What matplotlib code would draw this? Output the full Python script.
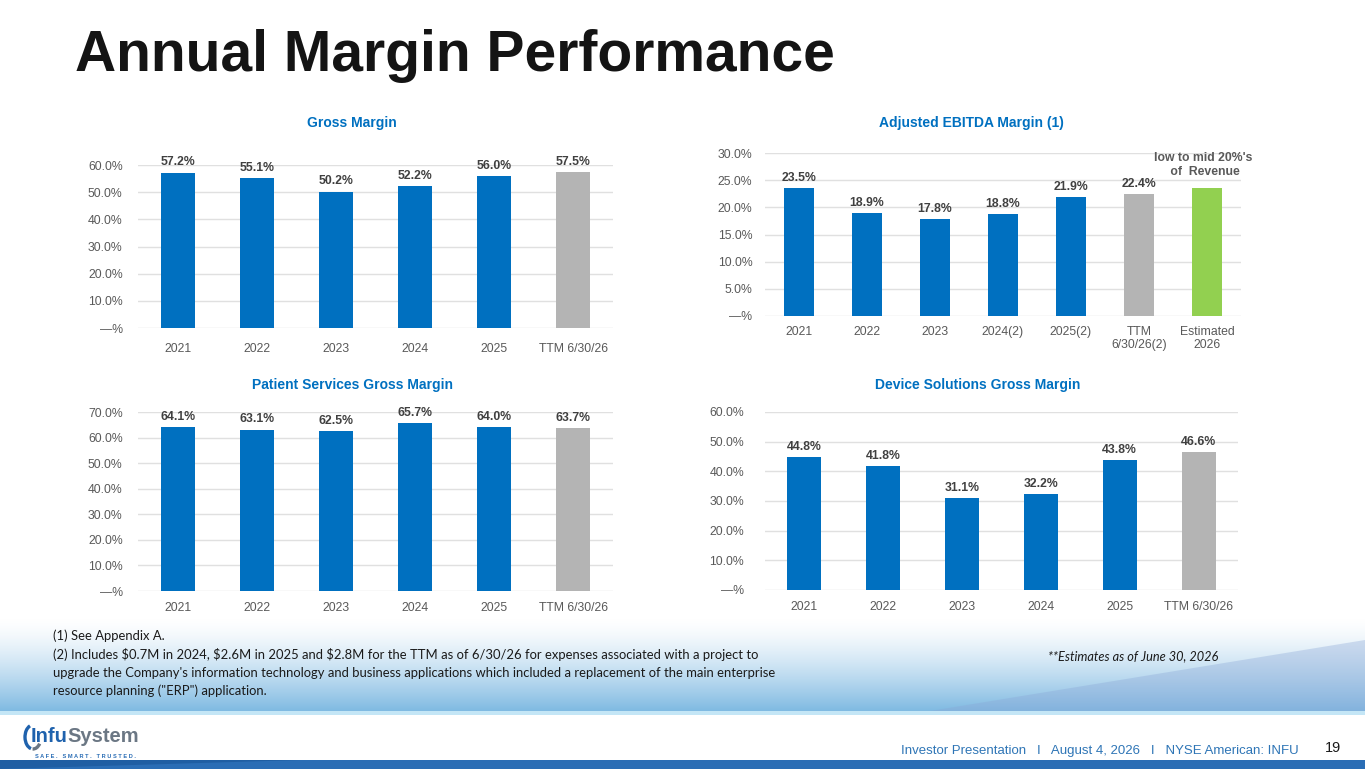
import matplotlib
matplotlib.use("Agg")
import matplotlib.pyplot as plt
import numpy as np
from matplotlib.patches import Arc, Polygon, Rectangle

W, H = 1365, 769

# ---- data ----
years = ["2021", "2022", "2023", "2024", "2025", "TTM 6/30/26"]
gross_margin = [57.2, 55.1, 50.2, 52.2, 56.0, 57.5]

ebitda_labels = ["2021", "2022", "2023", "2024(2)", "2025(2)", "TTM\n6/30/26(2)", "Estimated\n2026"]
ebitda_margin = [23.5, 18.9, 17.8, 18.8, 21.9, 22.4, 23.5]
ebitda_text = ["23.5%", "18.9%", "17.8%", "18.8%", "21.9%", "22.4%", None]

patient_margin = [64.1, 63.1, 62.5, 65.7, 64.0, 63.7]
device_margin = [44.8, 41.8, 31.1, 32.2, 43.8, 46.6]

BLUE = "#0070c0"
GREY = "#b4b4b4"
GREEN = "#92d050"
TICK = "#595959"
VALUE = "#404040"
SANS = ["Liberation Sans", "DejaVu Sans"]

plt.rcParams["font.family"] = SANS

fig = plt.figure(figsize=(W / 100, H / 100), dpi=100)

# ---- background: gradient band + footer ----
bg = fig.add_axes([0, 0, 1, 1], zorder=-10)
bg.set_xlim(0, W)
bg.set_ylim(H, 0)
bg.axis("off")
band_top, band_bot = 618, 711
t = np.linspace(0, 1, band_bot - band_top)[:, None] ** 1.4
top_c = np.array([1.0, 1.0, 1.0])
bot_c = np.array([0x80, 0xba, 0xe2]) / 255
grad = top_c + (bot_c - top_c) * t[..., None]
grad = np.repeat(grad, 10, axis=1)
bg.imshow(grad, extent=(0, W, band_bot, band_top), aspect="auto", zorder=0)
bg.add_patch(Polygon([(930, band_bot), (1365, 640), (1365, band_bot)],
                     closed=True, color="#8aa6d6", alpha=0.35, lw=0, zorder=1))
bg.add_patch(Rectangle((0, 711), W, 4, color="#c4e6f6", lw=0, zorder=2))
bg.add_patch(Rectangle((0, 760), W, 9, color="#2a6db5", lw=0, zorder=2))
bg.add_patch(Polygon([(0, 760), (300, 760), (0, 769)], closed=True,
                     color="#1f5ea3", lw=0, zorder=3))


def px_axes(left, top, right, bottom):
    return fig.add_axes([left / W, 1 - bottom / H, (right - left) / W, (bottom - top) / H])


def pct(v, _=None):
    return "\u2014%" if v == 0 else f"{v:.1f}%"


def bar_panel(ax, labels, values, colors, ymax, step, ypad, xpad, texts=None):
    x = np.arange(len(values))
    ax.bar(x, values, width=0.43, color=colors, zorder=3)
    ax.set_xlim(-0.5, len(values) - 0.5)
    ax.set_ylim(0, ymax)
    ticks = np.arange(0, ymax + step / 2, step)
    ax.set_yticks(ticks)
    ax.set_yticklabels([pct(v) for v in ticks])
    ax.set_xticks(x)
    ax.set_xticklabels(labels)
    ax.yaxis.grid(True, color="#e0e0e0", lw=1, zorder=0)
    ax.set_axisbelow(True)
    for s in ax.spines.values():
        s.set_visible(False)
    ax.tick_params(axis="y", length=0, pad=ypad, labelsize=8.8, labelcolor=TICK)
    ax.tick_params(axis="x", length=0, pad=xpad, labelsize=8.8, labelcolor=TICK)
    if texts is None:
        texts = [f"{v:.1f}%" for v in values]
    for xi, v, s in zip(x, values, texts):
        if s is None:
            continue
        ax.annotate(s, (xi, v), xytext=(0, 3), textcoords="offset points",
                    ha="center", va="bottom", fontsize=8.8, fontweight="bold",
                    color=VALUE, annotation_clip=False)


six_colors = [BLUE] * 5 + [GREY]

ax1 = px_axes(138, 165, 613, 328)
bar_panel(ax1, years, gross_margin, six_colors, 60, 10, 11, 11)

ax2 = px_axes(765, 153, 1241, 316)
bar_panel(ax2, ebitda_labels, ebitda_margin, [BLUE] * 5 + [GREY, GREEN], 30, 5, 9, 7,
          texts=ebitda_text)
for lbl in ax2.get_xticklabels():
    lbl.set_linespacing(1.1)
ax2.text(5.94, 27.8, "low to mid 20%'s\n of  Revenue", ha="center", va="center",
         fontsize=8.8, fontweight="bold", color=TICK, linespacing=1.15)

ax3 = px_axes(138, 412, 613, 591)
bar_panel(ax3, years, patient_margin, six_colors, 70, 10, 11, 8)

ax4 = px_axes(765, 412, 1238, 590)
bar_panel(ax4, years, device_margin, six_colors, 60, 10, 15, 8)

# ---- panel titles ----
title_kw = dict(ha="center", va="center", fontsize=10, fontweight="bold", color=BLUE)
fig.text(352 / W, 1 - 123 / H, "Gross Margin", **title_kw)
fig.text(971 / W, 1 - 123 / H, "Adjusted EBITDA Margin (1)", **title_kw)
fig.text(352 / W, 1 - 385 / H, "Patient Services Gross Margin", **title_kw)
fig.text(978 / W, 1 - 385 / H, "Device Solutions Gross Margin", **title_kw)

# ---- main title ----
fig.text(75 / W, 1 - 56 / H, "Annual Margin Performance", ha="left", va="center",
         fontsize=41, fontweight="bold", color="#141414")

# ---- footnotes ----
note_kw = dict(ha="left", va="center", fontsize=9.4, color="#1a1a1a",
               family=["Lato", "DejaVu Sans"])
notes = [
    "(1) See Appendix A.",
    "(2) Includes $0.7M in 2024, $2.6M in 2025 and $2.8M for the TTM as of 6/30/26 for expenses associated with a project to",
    "upgrade the Company's information technology and business applications which included a replacement of the main enterprise",
    "resource planning (\"ERP\") application.",
]
for i, line in enumerate(notes):
    fig.text(53 / W, 1 - (636 + 18.3 * i) / H, line, **note_kw)

fig.text(1048 / W, 1 - 656 / H, "**Estimates as of June 30, 2026", ha="left", va="center",
         fontsize=9.2, style="italic", color="#1a1a1a", family=["Lato", "DejaVu Sans"])

# ---- footer ----
fig.text(1299 / W, 1 - 751 / H,
         "Investor Presentation   I   August 4, 2026   I   NYSE American: INFU",
         ha="right", va="center", fontsize=9.5, color="#2e75b6")
fig.text(1333 / W, 1 - 748 / H, "19", ha="center", va="center", fontsize=10.5, color="#1a1a1a")

# logo
fig.text(31 / W, 1 - 737 / H, "Infu", ha="left", va="center", fontsize=14.5,
         fontweight="bold", color="#1f62ad")
fig.text(67 / W, 1 - 737 / H, "System", ha="left", va="center", fontsize=14.5,
         fontweight="bold", color="#6b7784")
fig.text(35 / W, 1 - 756 / H, "S A F E .   S M A R T .   T R U S T E D .", ha="left",
         va="center", fontsize=4.1, fontweight="bold", color="#2a6db5")
bg.add_patch(Arc((33, 737), 16, 24, theta1=100, theta2=255, color="#1f62ad", lw=2.4, zorder=5))
bg.add_patch(Arc((33, 737), 16, 24, theta1=45, theta2=92, color="#6b7784", lw=2.4, zorder=5))

fig.savefig("out.png", dpi=100)
